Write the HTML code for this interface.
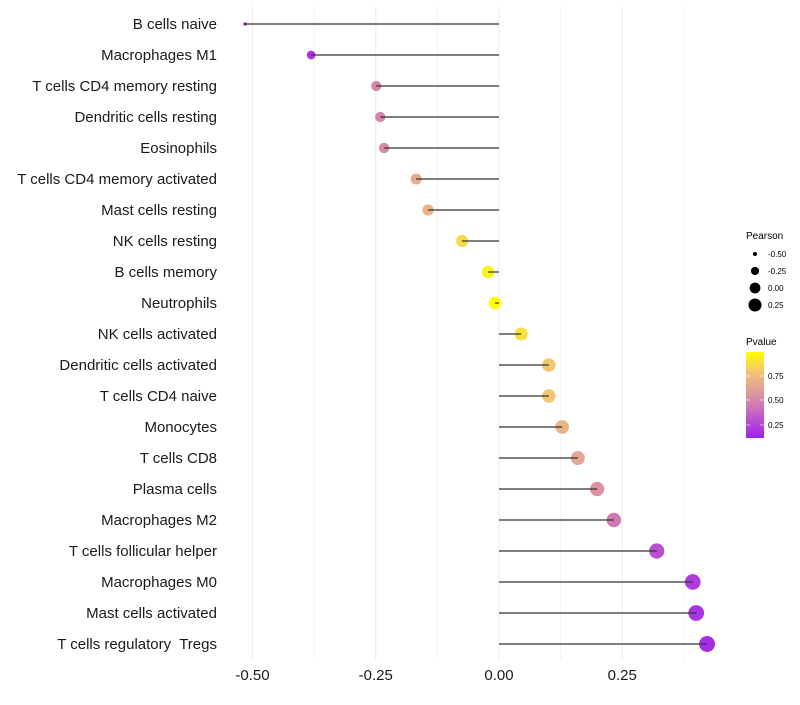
<!DOCTYPE html>
<html><head><meta charset="utf-8"><style>
body{margin:0;background:#fff;font-family:"Liberation Sans",sans-serif}
text{white-space:pre}
</style></head><body>
<svg id="chart" width="800" height="700" xmlns="http://www.w3.org/2000/svg">
<defs><linearGradient id="pg" x1="0" y1="1" x2="0" y2="0">
<stop offset="0" stop-color="#a020f0"/><stop offset="0.45" stop-color="#d68aa8"/><stop offset="0.75" stop-color="#f1c07a"/><stop offset="1" stop-color="#ffff00"/></linearGradient></defs>
<g id="grid"></g>
<g id="marks"></g>
<g id="ylabels"></g>
<g id="xlabels"></g>
<g font-size="9" fill="#000">
<text x="746" y="239" font-size="10">Pearson</text>
<circle cx="755" cy="254" r="2"/><text x="768" y="257" font-size="8">-0.50</text>
<circle cx="755" cy="271" r="4.1"/><text x="768" y="274" font-size="8">-0.25</text>
<circle cx="755" cy="288" r="5.4"/><text x="768" y="291" font-size="8">0.00</text>
<circle cx="755" cy="305" r="6.5"/><text x="768" y="308" font-size="8">0.25</text>
</g>
<g>
<text x="746" y="345" font-size="10">Pvalue</text>
<rect x="746" y="352" width="18" height="86" fill="url(#pg)"/>
<g stroke="#fff" stroke-opacity="0.6"><line x1="746" x2="750" y1="376" y2="376"/><line x1="760" x2="764" y1="376" y2="376"/><line x1="746" x2="750" y1="400" y2="400"/><line x1="760" x2="764" y1="400" y2="400"/><line x1="746" x2="750" y1="425" y2="425"/><line x1="760" x2="764" y1="425" y2="425"/></g>
<text x="768" y="379" font-size="8">0.75</text><text x="768" y="403" font-size="8">0.50</text><text x="768" y="428" font-size="8">0.25</text>
</g>
</svg>
<script>
const categories=["B cells naive","Macrophages M1","T cells CD4 memory resting","Dendritic cells resting","Eosinophils","T cells CD4 memory activated","Mast cells resting","NK cells resting","B cells memory","Neutrophils","NK cells activated","Dendritic cells activated","T cells CD4 naive","Monocytes","T cells CD8","Plasma cells","Macrophages M2","T cells follicular helper","Macrophages M0","Mast cells activated","T cells regulatory  Tregs"];
const pearson=[-0.515,-0.381,-0.249,-0.241,-0.233,-0.168,-0.144,-0.075,-0.022,-0.008,0.045,0.101,0.101,0.128,0.160,0.199,0.233,0.320,0.393,0.400,0.422];
const pvalue=[0.12,0.2,0.5,0.5,0.52,0.68,0.72,0.87,0.96,0.99,0.9,0.8,0.8,0.72,0.66,0.56,0.46,0.3,0.22,0.2,0.17];
const xTicks=[-0.5,-0.25,0,0.25];
const xTickLabels=["-0.50","-0.25","0.00","0.25"];
const NS="http://www.w3.org/2000/svg";
const xs=v=>499+v*493;
const ys=i=>24+i*31;
function mk(t,a,p){const e=document.createElementNS(NS,t);for(const k in a)e.setAttribute(k,a[k]);p.appendChild(e);return e;}
function lerp(a,b,t){return a.map((x,i)=>Math.round(x+(b[i]-x)*t));}
function col(p){const t=Math.max(0,Math.min(1,(p-0.12)/(1.0-0.12)));
const s=[[0,[160,32,240]],[0.45,[214,138,168]],[0.75,[241,192,122]],[1,[255,255,0]]];
for(let i=0;i<s.length-1;i++){if(t<=s[i+1][0]){const c=lerp(s[i][1],s[i+1][1],(t-s[i][0])/(s[i+1][0]-s[i][0]));return `rgb(${c})`;}}return "rgb(255,255,0)";}
const g=document.getElementById('grid');
for(let v=-0.5;v<=0.38;v+=0.125){const l=mk('line',{x1:xs(v),x2:xs(v),y1:6,y2:660,stroke:'#ebebeb','stroke-width':v*8%2===0?1:0.6},g);

}
const m=document.getElementById('marks'),yl=document.getElementById('ylabels'),xl=document.getElementById('xlabels');
categories.forEach((c,i)=>{
const y=ys(i),v=pearson[i];
const r=v<-0.45?1.8:Math.sqrt(Math.max(1,40+55*v));
const ci=mk('circle',{cx:xs(v),cy:y,r:r,fill:col(pvalue[i])},m);


const ln=mk('line',{x1:xs(0),x2:xs(v),y1:y,y2:y,stroke:'#333','stroke-width':1.2},m);


const t=mk('text',{x:217,y:y+5,'text-anchor':'end','font-size':15,fill:'#1a1a1a'},yl);t.textContent=c;


});
xTicks.forEach((v,i)=>{const t=mk('text',{x:xs(v),y:680,'text-anchor':'middle','font-size':15,fill:'#1a1a1a'},xl);t.textContent=xTickLabels[i];

});
</script>
</body></html>
